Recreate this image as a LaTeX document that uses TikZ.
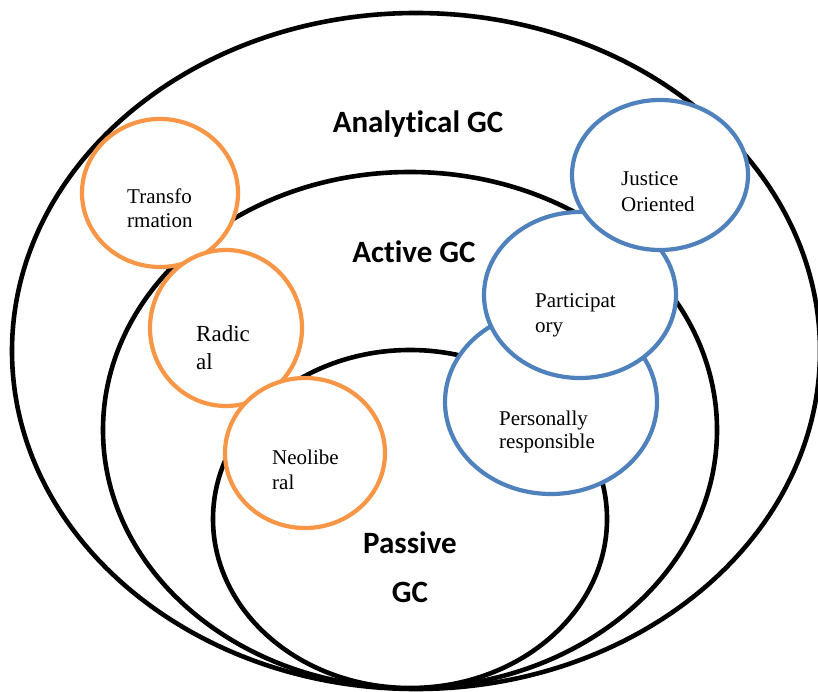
\documentclass[tikz,border=0pt]{standalone}
\usepackage{fontspec}
\newfontfamily\serifLS{Liberation Serif}
\newfontfamily\calib[Ligatures=NoCommon]{Carlito}
\definecolor{gcorange}{HTML}{F79646}
\definecolor{gcblue}{HTML}{4F81BD}
\begin{document}
\begin{tikzpicture}[x=1pt,y=-1pt,
  ring/.style={draw=black,fill=white,line width=4.6pt},
  orangeset/.style={draw=gcorange,fill=white,line width=4.2pt},
  blueset/.style={draw=gcblue,fill=white,line width=4.2pt},
  big/.style={font=\calib\bfseries\fontsize{31}{37}\selectfont,inner sep=0pt,anchor=base},
  lbl/.style={text width=160pt,align=left,anchor=base west,inner sep=0pt}]
\useasboundingbox (0,0) rectangle (818,692);
% nested ellipses
\path[ring] (416,351) ellipse [x radius=404,y radius=338];
\path[ring] (410,430) ellipse [x radius=307,y radius=258];
\path[ring] (410,519) ellipse [x radius=197,y radius=169];
% orange circles
\path[orangeset] (160,193) ellipse [x radius=78,y radius=74];
\path[orangeset] (226,328) ellipse [x radius=76,y radius=78];
\path[orangeset] (305,453) ellipse [x radius=80,y radius=75];
% blue circles
\path[blueset] (551,402) ellipse [x radius=106,y radius=92];
\path[blueset] (580,295) ellipse [x radius=96,y radius=83];
\path[blueset] (660,175) ellipse [x radius=88,y radius=75];
% main labels
\node[big] (analytical) at (418,133) {Analytical GC};
\node[big] (active) at (414,262) {Active GC};
\node[big,text width=200pt,align=center,font=\calib\bfseries\fontsize{31}{49}\selectfont] (passive) at (410,553) {Passive\\GC};
% small labels
\node[lbl,font=\serifLS\fontsize{21}{24}\selectfont] (transformation) at (127,204) {Transfo\\rmation};
\node[lbl,font=\serifLS\fontsize{23}{28}\selectfont] (radical) at (196,341) {Radic\\al};
\node[lbl,font=\serifLS\fontsize{21}{25}\selectfont] (neoliberal) at (272,464) {Neolibe\\ral};
\node[lbl,font=\serifLS\fontsize{21}{26}\selectfont] (justice) at (621,186) {Justice\\Oriented};
\node[lbl,font=\serifLS\fontsize{21}{25}\selectfont] (participatory) at (535,307) {Participat\\ory};
\node[lbl,font=\serifLS\fontsize{21}{23}\selectfont] (personally) at (499,425) {Personally\\responsible};
\end{tikzpicture}
\end{document}
